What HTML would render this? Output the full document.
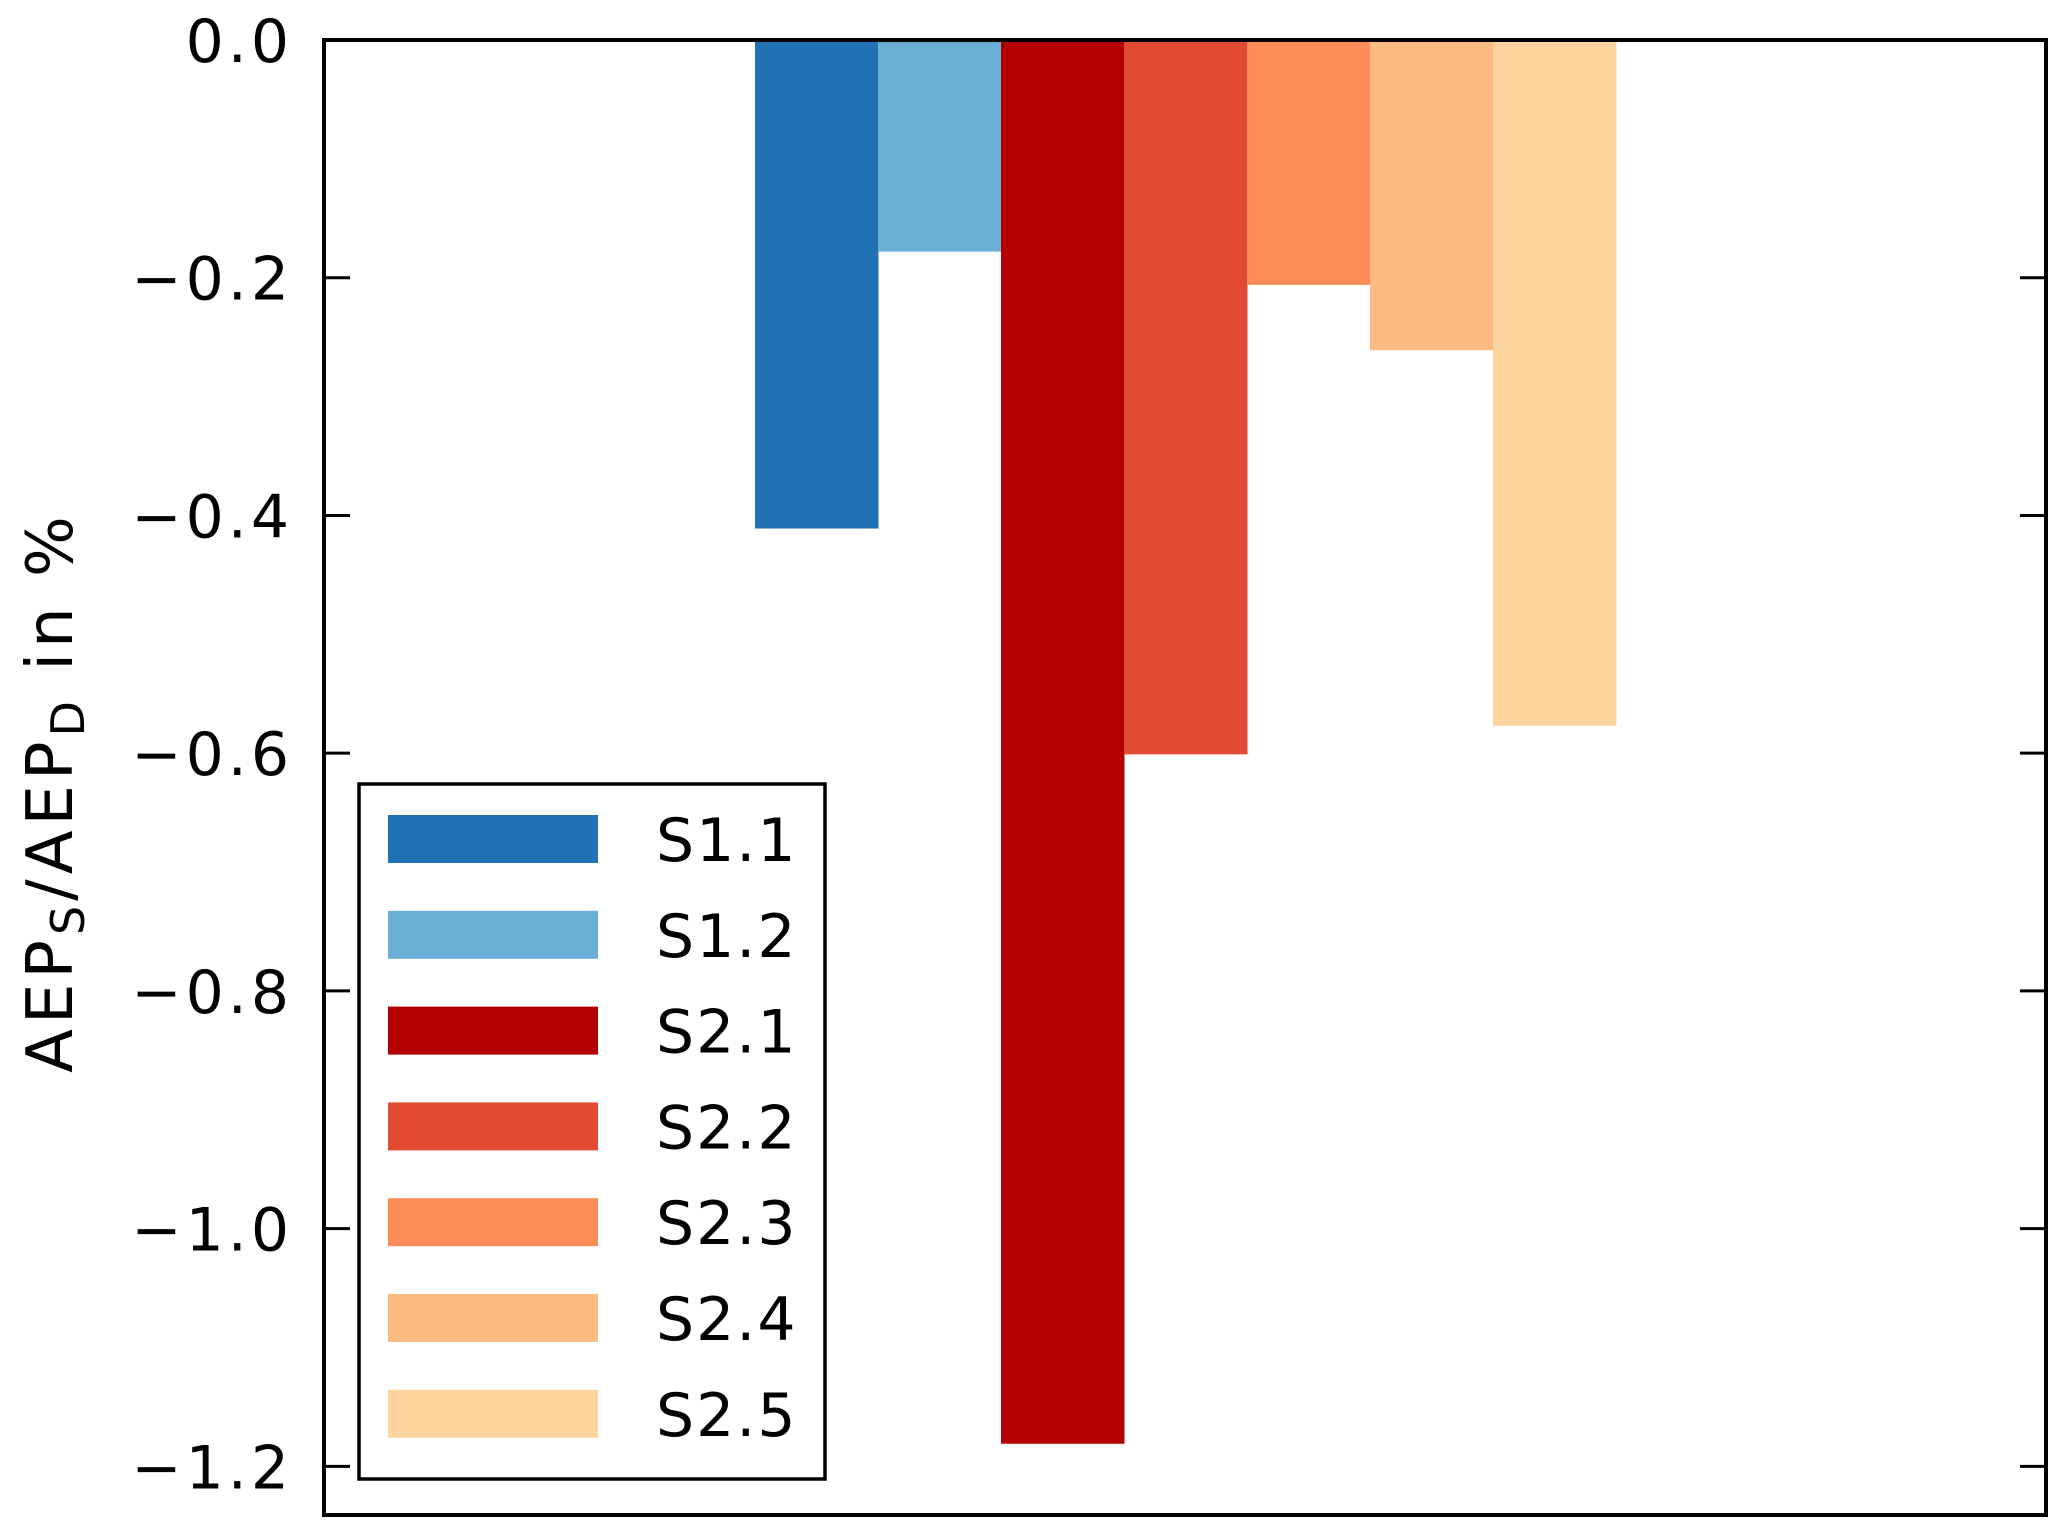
<!DOCTYPE html>
<html><head><meta charset="utf-8"><style>
body{margin:0;background:#fff}
svg{display:block;font-family:"DejaVu Sans","Liberation Sans",sans-serif}
</style></head><body>
<svg id="chart" width="2067" height="1532">
<g id="bars"></g>
<g id="ticks"></g>
<rect x="324" y="40" width="1722" height="1475" fill="none" stroke="#000" stroke-width="4"/>
<text transform="translate(72,792) rotate(-90)" text-anchor="middle" font-size="64" letter-spacing="5">AEP<tspan font-size="46" dy="12">S</tspan><tspan dy="-12">/AEP</tspan><tspan font-size="46" dy="12">D</tspan><tspan dy="-12"> in %</tspan></text>
<g id="legend">
<rect x="359" y="784" width="466" height="695" fill="#fff" stroke="#000" stroke-width="3.5"/>
</g>
</svg>
<script>
const categories=["S1.1","S1.2","S2.1","S2.2","S2.3","S2.4","S2.5"];
const values=[-0.411,-0.178,-1.181,-0.601,-0.206,-0.261,-0.577];
const colors=["#2171b5","#6baed6","#b30000","#e34a33","#fc8d59","#fdbb84","#fdd49e"];
const tickValues=[0,-0.2,-0.4,-0.6,-0.8,-1.0,-1.2];
const tickLabels=["0.0","\u22120.2","\u22120.4","\u22120.6","\u22120.8","\u22121.0","\u22121.2"];
const NS="http://www.w3.org/2000/svg";
const y=v=>40-v*1188.6;
const x=i=>755+i*123;
const bars=document.getElementById('bars');
values.forEach((v,i)=>{
 const r=document.createElementNS(NS,'rect');
 r.setAttribute('x',x(i));r.setAttribute('width',123.5);
 r.setAttribute('y',Math.min(y(0),y(v)));r.setAttribute('height',Math.abs(y(v)-y(0)));
 r.setAttribute('fill',colors[i]);
 
 
 bars.appendChild(r);
});
const ticks=document.getElementById('ticks');
tickValues.forEach((t,i)=>{
 const yy=y(t);
 [[324,350],[2020,2046]].forEach(([a,b])=>{
  const l=document.createElementNS(NS,'line');
  l.setAttribute('x1',a);l.setAttribute('x2',b);l.setAttribute('y1',yy);l.setAttribute('y2',yy);
  l.setAttribute('stroke','#000');l.setAttribute('stroke-width',3);
  
  
  ticks.appendChild(l);
 });
 const tx=document.createElementNS(NS,'text');
 tx.setAttribute('x',293);tx.setAttribute('y',yy+22);tx.setAttribute('text-anchor','end');tx.setAttribute('font-size',60);
 tx.setAttribute('letter-spacing','4');
 tx.textContent=tickLabels[i];
 
 
 ticks.appendChild(tx);
});
const lg=document.getElementById('legend');
categories.forEach((c,i)=>{
 const cy=839+i*95.8;
 const r=document.createElementNS(NS,'rect');
 r.setAttribute('x',388);r.setAttribute('y',cy-24);r.setAttribute('width',210);r.setAttribute('height',48);r.setAttribute('fill',colors[i]);
 
 
 lg.appendChild(r);
 const t=document.createElementNS(NS,'text');
 t.setAttribute('x',656);t.setAttribute('y',cy+22);t.setAttribute('font-size',60);t.setAttribute('letter-spacing','2');t.textContent=c;
 
 
 lg.appendChild(t);
});
</script>
</body></html>
